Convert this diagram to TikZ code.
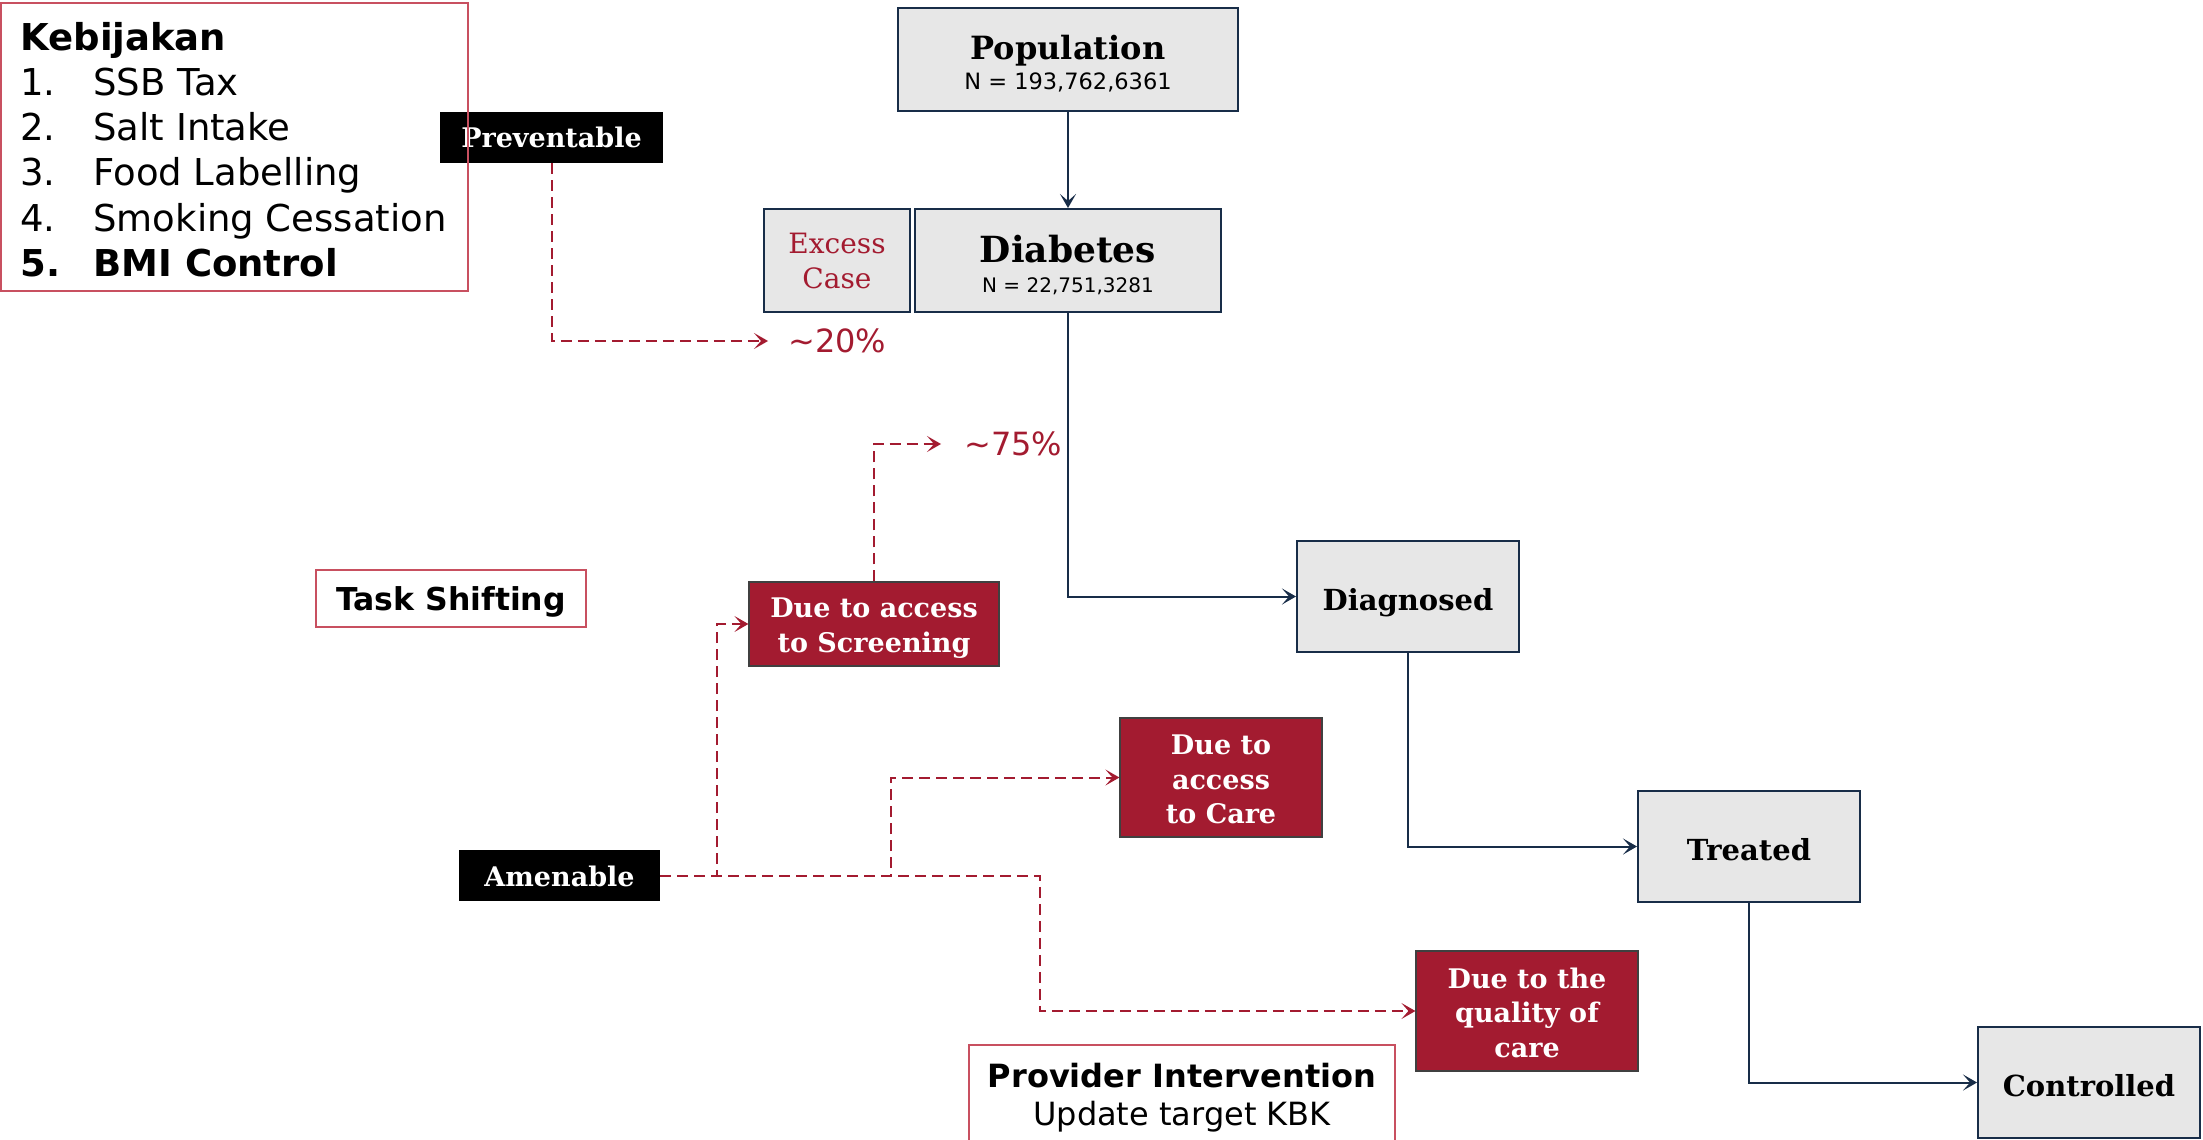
\documentclass[tikz,border=0pt]{standalone}
\usepackage{fontspec}
\setmainfont{DejaVu Serif}
\setsansfont{DejaVu Sans}
\usetikzlibrary{arrows.meta}
\definecolor{navy}{RGB}{24,45,72}
\definecolor{crimson}{RGB}{163,27,48}
\definecolor{boxgray}{RGB}{231,231,231}
\definecolor{rimred}{RGB}{200,80,96}
\newcommand{\fs}[2]{\fontsize{#1pt}{#2pt}\selectfont}
\newcommand{\lift}[1]{\rule{0pt}{#1}}
\tikzset{
  stage/.style={draw=navy, line width=1pt, fill=boxgray, inner sep=0pt,
    align=center, font=\bfseries\fs{14.5}{17}},
  oneline/.style={text height=14pt, text depth=0pt},
  cause/.style={draw=black!75, line width=0.6pt, fill=crimson, text=white,
    inner sep=0pt, align=center, font=\bfseries\fs{13.5}{17.3}},
  tag/.style={fill=black, text=white, inner sep=0pt, font=\bfseries\fs{13.5}{16},
    text height=10.5pt, text depth=0pt},
  note/.style={draw=rimred, line width=0.7pt, inner sep=0pt, align=center,
    font=\sffamily\fs{16}{19}},
  listtxt/.style={anchor=base west, inner sep=0pt, font=\sffamily\fs{18.5}{22.5}},
  pct/.style={anchor=west, inner sep=0pt, text=crimson, font=\sffamily\fs{16}{19}},
  flow/.style={navy, line width=1pt, -{Stealth[length=7pt,width=8pt,inset=3.5pt]}},
  gap/.style={crimson, line width=1pt, dash pattern=on 5.5pt off 3pt,
    -{Stealth[length=7pt,width=8pt,inset=3.5pt]}}
}
\begin{document}
\begin{tikzpicture}[x=0.5pt, y=-0.5pt]
\useasboundingbox (0,0) rectangle (2203,1139);

% cascade stages
\node[stage, minimum width=170pt, minimum height=51.5pt] (pop) at (1068,59.5)
  {\fs{16}{19}\lift{16pt}Population\\[-2pt]{\mdseries\sffamily\fs{11.25}{13}N = 193,762,6361}};
\node[stage, minimum width=153pt, minimum height=51.5pt] (dia) at (1068,260.5)
  {\fs{18}{20}\lift{18.5pt}Diabetes\\[-2pt]{\mdseries\sffamily\fs{10}{12}N = 22,751,3281}};
\node[stage, minimum width=73pt, minimum height=51.5pt, text=crimson,
  font=\mdseries\fs{14}{17.5}] (exc) at (837,260.5) {Excess\\Case};
\node[stage, oneline, minimum width=111pt, minimum height=55.5pt] (diag) at (1408,596.5) {Diagnosed};
\node[stage, oneline, minimum width=111pt, minimum height=55.5pt] (treat) at (1749,846.5) {Treated};
\node[stage, oneline, minimum width=111pt, minimum height=55.5pt] (ctrl) at (2089,1082.5) {Controlled};

% gap causes
\node[cause, minimum width=125pt, minimum height=42pt] (scr) at (874,624)
  {\lift{14pt}Due to access\\to Screening};
\node[cause, minimum width=101pt, minimum height=59.5pt] (care) at (1221,777.5)
  {\lift{12pt}Due to\\access\\to Care};
\node[cause, minimum width=111pt, minimum height=60pt] (qual) at (1527,1011)
  {\lift{12pt}Due to the\\quality of\\care};

% category tags
\node[tag, minimum width=111.5pt, minimum height=25.5pt] (prev) at (551.5,137.5) {Preventable};
\node[tag, minimum width=100.5pt, minimum height=25.5pt] (ame) at (559.5,875.5) {Amenable};

% policy and intervention notes
\node[draw=rimred, line width=0.7pt, inner sep=0pt, minimum width=233.5pt,
  minimum height=144pt] (keb) at (234.5,147) {};
\node[listtxt] (k0) at (20,51) {\bfseries Kebijakan};
\node[listtxt] (n1) at (20,96) {1.};
\node[listtxt] (k1) at (93,96) {SSB Tax};
\node[listtxt] (n2) at (20,141) {2.};
\node[listtxt] (k2) at (93,141) {Salt Intake};
\node[listtxt] (n3) at (20,186) {3.};
\node[listtxt] (k3) at (93,186) {Food Labelling};
\node[listtxt] (n4) at (20,231) {4.};
\node[listtxt] (k4) at (93,231) {Smoking Cessation};
\node[listtxt] (n5) at (20,276) {\bfseries 5.};
\node[listtxt] (k5) at (93,276) {\bfseries BMI Control};

\node[note, minimum width=135pt, minimum height=28.5pt, text height=11.5pt, text depth=0pt,
  font=\sffamily\bfseries\fs{15.75}{18}] (task) at (451,598.5) {Task Shifting};
\node[note, minimum width=213pt, minimum height=52.5pt] (prov) at (1182,1097.5)
  {\bfseries Provider Intervention\\Update target KBK};

% shares
\node[pct] (p20) at (788,341) {\textasciitilde20\%};
\node[pct] (p75) at (964,444) {\textasciitilde75\%};

% cascade flow
\draw[flow] (pop) -- (dia);
\draw[flow] (dia.south) |- (diag.west);
\draw[flow] (diag.south) |- (treat.west);
\draw[flow] (treat.south) |- (ctrl.west);

% gap links
\draw[gap, shorten >=10pt] (prev.south) |- (p20.west);
\draw[gap, shorten >=11.5pt] (scr.north) |- (p75.west);
\coordinate (j1) at (717,875.5);
\coordinate (j2) at (891,875.5);
\coordinate (j3) at (1040,875.5);
\draw[gap] (ame.east) -- (j1) |- (scr.west);
\draw[gap] (ame.east) -- (j2) |- (care.west);
\draw[gap] (ame.east) -- (j3) |- (qual.west);
\end{tikzpicture}
\end{document}
